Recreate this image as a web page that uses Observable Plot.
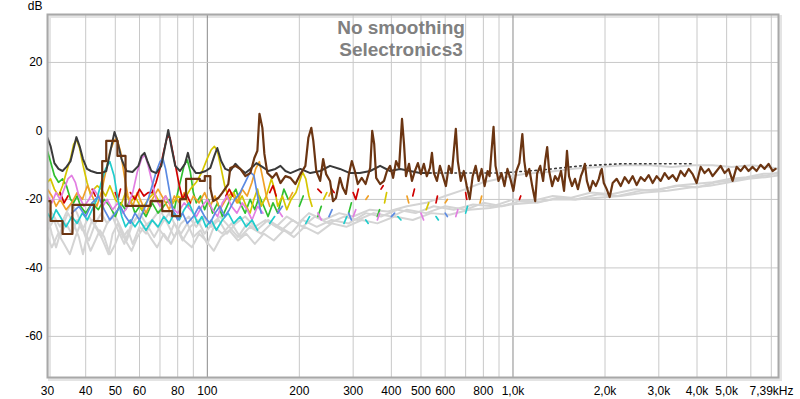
<!DOCTYPE html>
<html><head><meta charset="utf-8">
<script src="https://cdn.jsdelivr.net/npm/d3@7"></script>
<script src="https://cdn.jsdelivr.net/npm/@observablehq/plot@0.6"></script>
<style>body{margin:0;background:#fff;}</style>
</head><body><div id="chart"></div>
<script>
const gridTicks = [40,50,60,70,80,90,200,300,400,500,600,700,800,900,2000,3000,4000,5000,6000,7000];
const majorGrid = [100,1000];
const xLabelTicks = [30,40,50,60,80,100,200,300,400,500,600,800,1000,2000,3000,4000,5000];
const xLabels = ["30","40","50","60","80","100","200","300","400","500","600","800","1,0k","2,0k","3,0k","4,0k","5,0k"];
const xEndTick = [7390];
const xEndLabel = "7,39kHz";
const yTicks = [20,0,-20,-40,-60];
const yUnit = "dB";
const titleLines = ["No smoothing","Selectronics3"];

const grayA = [[30,-25],[31,-30],[32,-34],[33.5,-28],[35,-24],[36.5,-27],[38,-31],[39.2,-36],[40.5,-30],[42,-26],[44,-29],[46,-33],[47.5,-36],[49,-30],[51,-27],[53,-31],[55,-29],[57,-33],[60,-28],[63,-30],[66,-26],[70,-29],[74,-32],[78,-27],[82,-30],[86,-27],[90,-31],[95,-29],[100,-33],[105,-28],[112,-30],[120,-27],[128,-31],[138,-28],[150,-30],[162,-27],[175,-29],[190,-26],[205,-28],[225,-25],[250,-27],[280,-25],[310,-26],[350,-24],[400,-25],[450,-23],[520,-24],[600,-22],[700,-23],[800,-21],[920,-22],[1050,-20.5],[1200,-21],[1400,-19.5],[1600,-20],[1900,-18.5],[2200,-19],[2600,-17.5],[3000,-17],[3500,-16],[4000,-16.5],[4600,-15],[5200,-14.5],[6000,-13.5],[6800,-13],[7390,-12]];
const grayB = [[30,-29],[31.5,-26],[33,-31],[34.5,-27],[36,-30],[37.5,-26],[39,-29],[41,-25],[43,-28],[45,-31],[47,-27],[49.5,-24],[52,-28],[54.5,-32],[57,-27],[60,-24],[64,-28],[67,-31],[71,-27],[75,-24],[79,-28],[83,-32],[88,-28],[93,-26],[98,-30],[104,-27],[110,-25],[118,-28],[126,-31],[135,-27],[145,-29],[158,-26],[172,-28],[188,-30],[205,-26],[228,-28],[255,-26],[290,-27],[330,-24],[370,-25],[420,-23],[480,-24],[550,-22],[640,-23],[740,-21.5],[860,-22],[1000,-20],[1150,-20.5],[1350,-19],[1550,-19.5],[1800,-18],[2100,-18.5],[2500,-17],[2900,-17.5],[3400,-16],[3900,-15.5],[4500,-15],[5100,-14],[5800,-13.5],[6600,-12.5],[7390,-12.5]];
const grayC = [[30,-31],[31,-34],[32.5,-30],[34,-33],[35.5,-36],[37,-31],[38.5,-27],[40,-31],[41.5,-35],[43,-32],[44.5,-29],[46,-31],[48,-36],[50,-33],[52,-29],[54,-32],[56.5,-35],[59,-31],[62,-28],[65,-31],[68.5,-34],[72,-30],[76,-33],[80,-29],[84,-32],[89,-34],[94,-30],[99,-32],[105,-35],[111,-31],[118,-29],[126,-32],[134,-30],[143,-33],[153,-30],[165,-32],[178,-29],[192,-31],[208,-28],[230,-30],[255,-27],[285,-28],[320,-26],[360,-27],[410,-25],[470,-26],[540,-24],[620,-24.5],[720,-23],[840,-22.5],[980,-21.5],[1150,-21],[1350,-20],[1600,-20],[1900,-19.5],[2250,-19],[2700,-18],[3200,-17.5],[3800,-16.5],[4400,-16],[5100,-15],[5900,-14],[6700,-13.5],[7390,-13]];
const grayD = [[30,-22],[31.5,-25],[33,-28],[34.5,-24],[36,-21],[37.5,-24],[39,-28],[41,-32],[43,-27],[45,-24],[47,-27],[49,-25],[51,-29],[53.5,-33],[56,-28],[59,-25],[62,-28],[66,-26],[70,-23],[74,-27],[78,-31],[82,-27],[87,-25],[92,-28],[97,-25],[103,-28],[109,-26],[116,-30],[124,-27],[133,-25],[143,-28],[155,-26],[168,-28],[182,-25],[198,-27],[215,-24],[240,-26],[270,-24],[300,-25],[340,-23],[390,-23.5],[450,-22],[520,-21],[600,-19],[700,-17],[800,-15],[950,-13.5],[1100,-12.5],[1300,-12],[1600,-11],[1900,-10.5],[2300,-10],[2800,-10],[3300,-10.5],[3900,-10],[4500,-10],[5200,-10.5],[6000,-10],[6800,-10.5],[7390,-11]];

const green = [[30,-6],[30.7,-9],[31.6,-13],[32.6,-15],[33.6,-14],[34.6,-16],[35.7,-20],[36.5,-21],[37.5,-19],[38.5,-22],[40,-24],[42,-21],[44,-23],[46,-20],[48,-22],[50,-25],[52,-21],[54,-23],[56,-20],[58,-24],[60,-22],[63,-25],[66,-21],[69,-24],[72,-22],[75,-20],[78,-23],[80,-18],[82,-14],[84,-10],[86,-8.5],[88,-12],[90,-18],[92,-21],[95,-19],[98,-23],[101,-20],[104,-24],[108,-21],[112,-25],[116,-22],[120,-19],[124,-17],[128,-21],[133,-24],[138,-20],[143,-23],[148,-19],[153,-22],[158,-25],[164,-21],[170,-24],[178,-17],[184,-20],[190,null],[200,-22],[206,-19],[212,null],[230,-25],[236,-22],[240,null],[290,-24],[296,-21],[300,null],[360,-25],[366,-23]];
const yellow = [[30,-15],[30.7,-14],[31.6,-17],[32.6,-19],[33.6,-16],[34.6,-12],[35.7,-8],[36.5,-4],[37.3,-2.5],[38.2,-5],[39.2,-10],[40.4,-15],[41.6,-19],[42.6,-17],[43.6,-16],[45,-17],[46.5,-19],[48,-16],[50,-20],[52,-22],[54,-18],[56,-21],[58,-19],[61,-23],[64,-20],[67,-18],[70,-21],[73,-19],[76,-22],[80,-19],[84,-20],[88,-17],[92,-15],[96,-12],[100,-8],[103,-5.5],[105.5,-4.5],[108,-6],[111,-11],[114,-16],[118,-20],[122,-18],[126,-21],[130,-19],[134,-22],[138,-24],[142,-20],[146,-17],[150,-22],[156,-19],[162,-14],[166,-17],[170,-22],[176,-19],[182,-23],[188,-20],[195,-18],[200,-15],[205,-12],[210,-14],[215,-19],[220,-22],[225,null],[240,-20],[246,-18],[250,null],[380,-21],[386,-18],[390,null],[520,-23],[530,-21]];
const orange = [[30,-17],[31,-19],[32,-22],[33,-20],[34.5,-23],[36,-21],[37.5,-18],[39,-20],[40.5,-16],[42,-19],[43.5,-22],[45,-18],[46.5,-12],[48,-6],[49.5,-3],[50.5,-2],[52,-6],[53.5,-13],[55,-19],[57,-22],[59,-18],[61,-21],[63,-24],[66,-20],[69,-17],[72,-20],[75,-23],[78,-19],[81,-21],[84,-18],[87,-22],[90,-19],[94,-21],[98,-18],[102,-22],[106,-19],[110,-23],[115,-20],[120,-18],[125,-21],[130,-17],[135,-19],[140,-15],[144,-11],[148,-9],[152,-14],[156,-19],[160,-22],[165,null],[185,-20],[190,-18],[195,null],[250,-19],[256,-17],[260,null],[330,-20],[336,-19],[340,null],[450,-19],[456,-21],[460,null],[600,-21],[610,-20],[620,null],[780,-21],[790,-19]];
const red = [[33,-18],[34,-21],[35,-19],[36,null],[42,-17],[43,-19],[44,null],[50,-18],[51,-20],[52,-17],[54,null],[56,-18],[58,-20],[60,-17],[62,-19],[64,-18],[66,-18],[68,-15],[70,-11],[72,-6],[74,-1.5],[75.5,-2],[77,-6],[79,-11],[81,-16],[83,-20],[85,-18],[88,-21],[90,null],[115,-19],[118,-17],[121,-19],[125,null],[160,-18],[164,-16],[168,-19],[172,null],[230,-17],[236,-18],[240,null],[255,-17],[260,-18],[265,null],[300,-18],[306,-20],[312,-17],[316,null],[370,-17],[376,-16],[380,null],[470,-19],[476,-17],[480,null],[560,-21],[566,-19],[570,null],[700,-18],[706,-20],[710,null],[1050,-20],[1060,-19]];
const pink = [[30,-19],[31,-21],[32,-18],[33,-20],[34,-17],[35,-14],[36,-13],[37,-15],[38,-19],[39.5,-22],[41,-20],[42.5,-17],[44,-19],[45.5,-22],[47,-20],[49,-23],[51,-21],[53,-24],[55,-22],[57,-18],[59,-12],[61,-8],[62.5,-7],[64,-10],[66,-15],[68,-20],[70,-22],[73,-19],[76,-22],[80,-24],[84,-21],[88,-23],[92,-25],[96,-22],[100,-20],[104,-23],[108,-25],[112,-21],[116,-19],[120,-22],[125,-24],[130,-21],[135,-23],[140,-26],[146,-22],[152,-24],[160,null],[170,-23],[176,-25],[180,null],[230,-24],[236,-26],[240,null],[300,-25],[306,-23],[310,null],[360,-26],[366,-24],[370,null],[500,-24],[510,-26],[520,null],[650,-25],[660,-23]];
const cyan = [[30,-24],[31,-26],[32,-23],[33,-25],[34.5,-28],[36,-25],[37.5,-27],[39,-24],[40.5,-26],[42,-23],[43.5,-20],[45,-15],[46.5,-11],[48,-9],[49.5,-13],[51,-20],[52.5,-25],[54,-28],[56,-26],[58,-28],[60,-26],[63,-29],[66,-26],[69,-28],[72,-25],[75,-27],[78,-24],[81,-26],[84,-23],[87,-21],[90,-24],[93,-27],[96,-25],[99,-28],[103,-26],[107,-29],[112,-26],[117,-24],[122,-27],[128,-25],[134,-28],[140,-26],[146,-29],[150,null],[160,-27],[166,-25],[170,null],[210,-27],[216,-25],[220,null],[280,-27],[286,-25],[290,null],[330,-26],[336,-27],[340,null],[420,-25],[430,-26],[440,null],[560,-25],[570,-26],[580,null],[700,-24],[710,-22]];
const blue = [[36,-24],[38,-22],[40,-25],[42,-21],[44,-19],[46,-23],[48,-26],[50,-24],[52,-22],[54,-25],[56,-27],[58,-24],[60,-26],[62,-23],[64,-20],[66,-16],[68,-12],[70,-9],[71.5,-8],[73,-11],[75,-17],[77,-23],[80,-26],[83,-24],[86,-27],[90,-25],[94,-22],[98,-25],[102,-27],[106,-24],[110,-22],[114,-25],[118,-23],[123,-20],[128,-18],[133,-15],[138,-12],[142,-13],[146,-19],[150,-24],[155,null],[170,-24],[176,-22],[180,null],[250,-25],[256,-23],[260,null],[290,-24],[296,-26],[300,null],[400,-25],[410,-24],[420,null],[600,-24],[610,-25]];

const dark = [[30,-2.0],[30.7,-4.4],[31.6,-9.4],[32.6,-11.1],[33.6,-11.7],[34.6,-10.5],[35.7,-8.8],[36.5,-5.3],[37.3,-1.8],[38.2,-4.4],[39.2,-8.2],[40.4,-11.1],[41.6,-11.7],[43.6,-12.3],[45.0,-12.3],[46.7,-11.7],[48.2,-5.8],[49.7,-0.3],[50.8,-2.9],[52.4,-8.2],[54.4,-11.7],[56.9,-12.0],[59.5,-10.2],[60.9,-7.3],[62.3,-6.4],[63.7,-8.8],[65.6,-11.7],[68.1,-12.3],[70.7,-10.2],[72.8,-4.4],[74.5,0.3],[76.2,-4.4],[78.5,-10.2],[81.4,-11.7],[84.5,-9.6],[86.4,-6.4],[88.4,-10.2],[91.7,-12.3],[94.5,-12.3],[98.8,-11.7],[102.3,-10.8],[105.4,-7.3],[107.8,-5.0],[111.0,-8.8],[114.5,-11.1],[118.9,-11.7],[123.5,-9.6],[128.2,-11.1],[133.2,-12.3],[138.3,-11.1],[144.7,-9.4],[151.4,-10.5],[158.4,-11.7],[167,-11.1],[173.5,-10.2],[180.1,-11.7],[187,-12.3],[201.6,-11.1],[217.2,-12.3],[234,-11.7],[252,-10.2],[271.6,-11.1],[292.8,-12.3],[315.5,-12.3],[341.1,-11.7],[367.5,-10.2],[396.2,-11.7],[427,-11.1],[497,-12.3],[535,-12.3]];
const darkTail = [[535,-12.3],[671,-12.3],[907,-12.3],[1236,-11.4],[1671,-10.2],[2258,-9.6],[3052,-9.6],[3900,-9.6]];

const brownLow = [[30,-20.5],[30.7,-26.3],[33.6,-30.1],[36.2,-21.6],[42.6,-26.3],[45.3,-8.8],[46.7,-2.9],[50.8,-7.3],[54.0,-21.9],[65.2,-20.5],[71.2,-23.4],[76.7,-24.9],[81.4,-19.9],[85.2,-14.0],[94.5,-14.6],[98.1,-13.2],[102.3,-16.7]];
const brown = [[102.3,-16.7],[104.6,-20.5],[108.6,-19.6],[111.9,-18.1],[117.1,-15.5],[118.9,-10.8],[123.5,-10.2],[128.2,-11.1],[133.2,-13.2],[138.3,-12.3],[142.5,-7.9],[145.8,-5.8],[148.1,5.0],[151.4,0.9],[153.7,-6.7],[157.2,-12.3],[163.3,-13.7],[168.3,-12.3],[173.5,-15.2],[180.1,-13.2],[187,-13.7],[194.2,-15.5],[201.6,-12.6],[209.3,-10.2],[214.1,-2.0],[218.9,0.9],[222.2,-2.9],[227.2,-11.7],[234,-14.6],[239.3,-8.2],[244.7,-12.6],[252,-14.6],[257.7,-20.5],[263.5,-19.6],[267.5,-16.7],[271.6,-13.7],[277.7,-16.7],[284,-18.4],[290.5,-12.6],[297,-8.8],[303.8,-11.7],[310.6,-15.5],[320,-13.7],[329.5,-15.5],[341.1,-10.8],[346.3,0],[351.5,-3.8],[356.8,-13.7],[367.5,-15.5],[378.5,-14.6],[387,-11.7],[396.2,-10.2],[405.3,-13.7],[414.5,-8.8],[423.9,-10.8],[433.4,3.5],[440,-3.8],[446.6,-13.2],[456.8,-9.6],[467.1,-14.6],[477.7,-11.7],[488.5,-9.4],[499.6,-12.6],[510.9,-9.6],[522.5,-13.2],[535,-10.8],[543.1,-6.4],[551.3,-12.3],[563.8,-14.6],[576.8,-10.2],[589.9,-13.2],[603.3,-16.1],[616.9,-10.2],[630.9,-12.3],[640.5,-5.8],[650.1,0.6],[659.9,-8.8],[674.9,-14.6],[690.2,-11.7],[705.9,-16.1],[721.9,-19.9],[738.2,-13.2],[755,-10.2],[772.1,-14.6],[789.6,-11.1],[807.5,-16.1],[825.8,-11.7],[838.3,-13.2],[850.9,-5.8],[863.8,1.2],[876.8,-10.2],[896.7,-14.6],[917,-12.3],[937.8,-16.1],[959.1,-11.1],[980.8,-14.0],[1003,-17.5],[1026,-11.7],[1049,-9.4],[1073,-0.9],[1089,-8.8],[1106,-13.2],[1131,-11.1],[1156,-16.1],[1182,-20.5],[1200,-12.3],[1228,-10.2],[1255,-14.6],[1274,-8.8],[1294,-4.7],[1313,-11.7],[1343,-16.1],[1373,-13.2],[1404,-14.6],[1436,-11.7],[1469,-17.5],[1491,-10.2],[1502,-5.8],[1525,-13.2],[1560,-16.1],[1595,-14.0],[1631,-17.0],[1668,-13.2],[1693,-11.7],[1719,-9.6],[1745,-14.6],[1784,-17.5],[1825,-14.6],[1866,-16.1],[1909,-14.0],[1937,-11.7],[1952,-11.1],[1982,-15.2],[2026,-17.0],[2072,-19.3],[2119,-15.2],[2184,-14.0],[2251,-16.1],[2320,-13.5],[2391,-15.2],[2464,-13.2],[2539,-15.8],[2617,-13.5],[2697,-14.6],[2779,-12.9],[2864,-15.2],[2952,-13.2],[3042,-14.6],[3135,-12.3],[3231,-14.0],[3330,-12.9],[3431,-14.6],[3536,-11.7],[3644,-13.2],[3756,-11.1],[3870,-12.6],[3989,-15.2],[4111,-10.5],[4236,-12.3],[4366,-11.1],[4499,-13.2],[4637,-11.7],[4778,-10.2],[4924,-12.3],[5075,-11.1],[5230,-14.6],[5390,-10.5],[5555,-11.7],[5724,-10.2],[5899,-11.7],[6080,-10.5],[6265,-11.7],[6457,-9.9],[6654,-11.1],[6857,-9.6],[7067,-11.7],[7229,-11.1]];

const grays = [grayA, grayB, grayC, grayD];
const coloured = [[green,"#2fbf2f"],[yellow,"#d6c600"],[orange,"#f0a028"],[red,"#d00000"],[pink,"#e27ee2"],[cyan,"#20cccc"],[blue,"#5b8ae2"]];

const font = "'Liberation Sans', Arial, sans-serif";
const L = (data, stroke, w, extra = {}) => Plot.line(data, {x: d => d[0], y: d => d[1], stroke, strokeWidth: w, clip: true, strokeLinejoin: "round", ...extra});

const chart = Plot.plot({
  width: 800, height: 399,
  marginLeft: 47, marginRight: 22, marginTop: 14, marginBottom: 22,
  style: {fontFamily: font, fontSize: "12px", background: "#fff", color: "#000", overflow: "visible"},
  x: {type: "log", domain: [30, 7390], axis: null},
  y: {domain: [-72, 34], axis: null},
  marks: [
    Plot.frame({stroke: "#e4e4e4", strokeWidth: 3, dx: 2, dy: 2}),
    Plot.gridX(gridTicks, {stroke: "#c8c8c8", strokeOpacity: 1, strokeWidth: 1}),
    Plot.gridX(majorGrid, {stroke: "#8a8a8a", strokeOpacity: 1, strokeWidth: 1}),
    Plot.gridY(yTicks, {stroke: "#c8c8c8", strokeOpacity: 1, strokeWidth: 1}),
    Plot.text([titleLines.join("\n")], {frameAnchor: "top", dx: -12, dy: 4, lineHeight: 1.16, fontSize: 19, fontWeight: "bold", fill: "#808080"}),
    ...grays.map(g => L(g, "#d4d4d4", 2)),
    ...coloured.map(([d, c]) => L(d, c, 1.7)),
    L(dark, "#3a3a3a", 2),
    L(darkTail, "#3a3a3a", 1.6, {strokeDasharray: "1.5,3.5", strokeLinecap: "round"}),
    L(brownLow, "#6b3512", 2.2, {curve: "step-after"}),
    L(brown, "#6b3512", 2.2),
    Plot.frame({stroke: "#a8a8a8", strokeWidth: 2}),
    Plot.axisY(yTicks, {tickSize: 0, tickPadding: 5, tickFormat: d => String(d), fontSize: 12, label: null}),
    Plot.text(xLabelTicks, {x: d => d, text: d => xLabels[xLabelTicks.indexOf(d)], frameAnchor: "bottom", lineAnchor: "top", dy: 9, fontSize: 12, fill: "#000"}),
    Plot.text(xEndTick, {x: d => d, text: () => xEndLabel, frameAnchor: "bottom", lineAnchor: "top", textAnchor: "end", dx: 15, dy: 9, fontSize: 12, fill: "#000"}),
    Plot.text([yUnit], {frameAnchor: "top-left", textAnchor: "end", lineAnchor: "bottom", dx: -5, dy: -5, fontSize: 12, fill: "#000"})
  ]
});
document.getElementById("chart").appendChild(chart);
</script>
</body></html>
